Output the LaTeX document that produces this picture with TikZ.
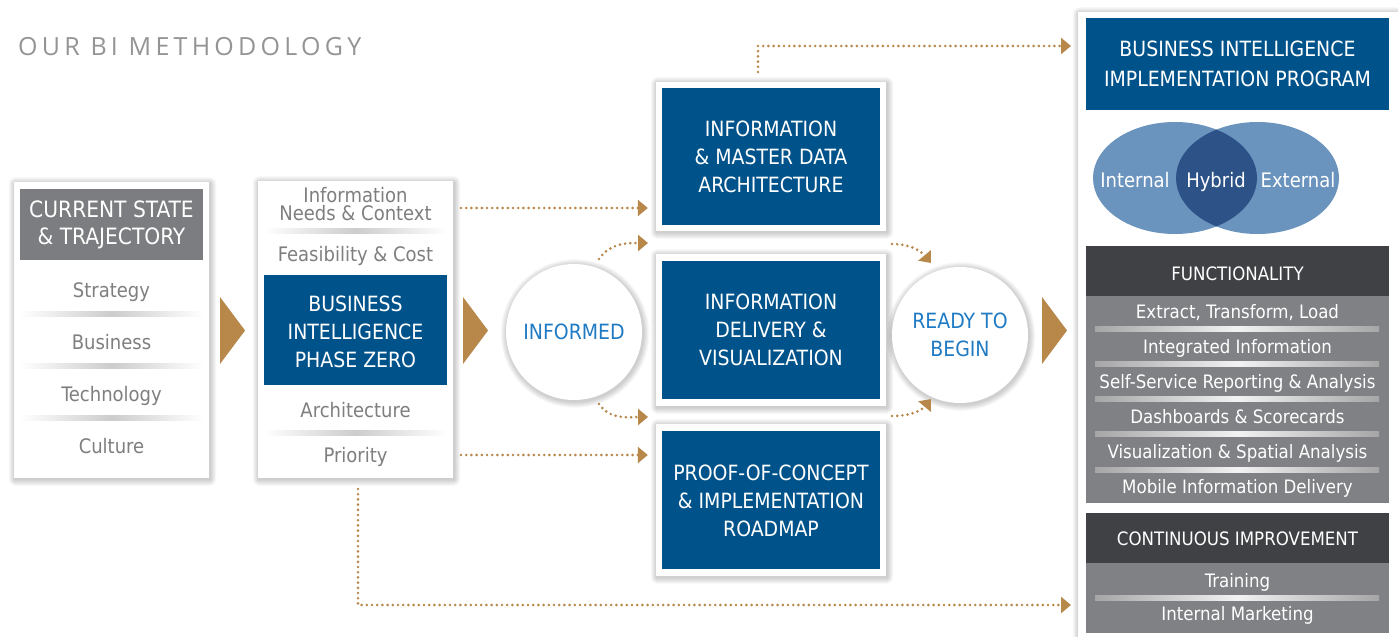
\documentclass[tikz,border=0pt]{standalone}
\usepackage{fontspec}
\setmainfont{DejaVu Sans Condensed}
\newfontfamily\titlefont[LetterSpace=17]{Open Sans}
\usetikzlibrary{arrows.meta}
\definecolor{biblue}{HTML}{00538A}
\definecolor{gold}{HTML}{B8874A}
\definecolor{txtgray}{HTML}{7F7F7F}
\definecolor{hdrgray}{HTML}{7C7D80}
\definecolor{darkhdr}{HTML}{404145}
\definecolor{bodygray}{HTML}{808184}
\definecolor{circblue}{HTML}{1F7BC4}
\definecolor{vennlight}{HTML}{6A93BD}
\definecolor{venndark}{HTML}{2C5287}
% soft shadow behind a rectangle given by its corners
\newcommand\softrect[4]{%
  \foreach \k in {1,...,7}{%
    \fill[black,opacity=0.028,rounded corners=\k pt]
      (#1-\k*0.9+1,#2-\k*0.9+1.5) rectangle (#3+\k*0.9+1,#4+\k*0.9+1.5);}}
\newcommand\softcirc[3]{%
  \foreach \k in {1,...,7}{%
    \fill[black,opacity=0.028] (#1+1,#2+1.5) circle [radius=#3+\k*0.9];}}
\begin{document}
\begin{tikzpicture}[x=1pt,y=-1pt,
  frame/.style={rectangle,fill=white,inner sep=0pt},
  bluebox/.style={rectangle,fill=biblue,inner sep=0pt,text=white,align=center},
  item/.style={text=txtgray,font=\fontsize{20}{19}\selectfont,anchor=base,inner sep=0pt,align=center},
  witem/.style={text=white,font=\fontsize{18.5}{19}\selectfont,anchor=base,inner sep=0pt},
  wtxt/.style={text=white,anchor=base,inner sep=0pt,align=center},
  bigtxt/.style={wtxt,anchor=center,font=\fontsize{21}{28}\selectfont},
  circ/.style={circle,fill=white,minimum size=136pt,inner sep=0pt,text=circblue,align=center,
    font=\fontsize{21}{28}\selectfont},
  gdot/.style={draw=gold,line width=2.9pt,dash pattern=on 0pt off 5.2pt,line cap=round,
    -{Triangle[length=10pt,width=16pt]}},
  goldtri/.style={fill=gold}
]
\useasboundingbox (0,0) rectangle (1398,637);
\fill[white] (0,0) rectangle (1398,637);

% title
\node[anchor=base west,inner sep=0pt,text=black!42,font=\titlefont\fontsize{25}{25}\selectfont] (title) at (18,55) {OUR BI METHODOLOGY};

% ---- panel 1
\softrect{14}{182}{209}{478}
\node[frame,minimum width=195pt,minimum height=296pt] (p1) at (111.5,330) {};
\node[rectangle,fill=hdrgray,minimum width=183pt,minimum height=71pt,inner sep=0pt] (p1h) at (111.5,224.5) {};
\node[wtxt,font=\fontsize{22.5}{27}\selectfont,anchor=center] (p1ht) at (111.5,225) {CURRENT STATE\\\& TRAJECTORY};
\foreach \yy in {314,366,418}
  \shade[left color=white,right color=white,middle color=black!20] (20,\yy-2.5) rectangle (203,\yy+2.5);
\node[item] (s1) at (111.5,297) {Strategy};
\node[item] (s2) at (111.5,349) {Business};
\node[item] (s3) at (111.5,401) {Technology};
\node[item] (s4) at (111.5,453) {Culture};

% ---- panel 2
\softrect{258}{181}{453}{478}
\node[frame,minimum width=195pt,minimum height=297pt] (p2) at (355.5,329.5) {};
\foreach \yy in {231,433}
  \shade[left color=white,right color=white,middle color=black!20] (264,\yy-2.5) rectangle (447,\yy+2.5);
\node[item] (q1) at (355.5,202) {Information};
\node[item] (q1b) at (355.5,220) {Needs \& Context};
\node[item] (q2) at (355.5,261) {Feasibility \& Cost};
\node[bluebox,minimum width=183pt,minimum height=110pt] (pz) at (355.5,330) {};
\node[bigtxt] (pzt) at (355.5,332) {BUSINESS\\INTELLIGENCE\\PHASE ZERO};
\node[item] (q3) at (355.5,417) {Architecture};
\node[item] (q4) at (355.5,462) {Priority};

% ---- gold arrows
\fill[goldtri] (220,297) -- (245,330.5) -- (220,364) -- cycle;
\fill[goldtri] (463,297) -- (488,330.5) -- (463,364) -- cycle;
\fill[goldtri] (1042,297) -- (1067,330.5) -- (1042,364) -- cycle;

% ---- informed circle
\softcirc{574}{332}{68}
\node[circ] (inf) at (574,332) {INFORMED};

% ---- three boxes
\softrect{656}{82}{886}{231}
\node[frame,minimum width=230pt,minimum height=149pt] (b1f) at (771,156.5) {};
\node[bluebox,minimum width=218pt,minimum height=137pt] (b1) at (771,156.5) {};
\node[bigtxt] (b1t) at (771,157) {INFORMATION\\\& MASTER DATA\\ARCHITECTURE};
\softrect{656}{254}{886}{406}
\node[frame,minimum width=230pt,minimum height=152pt] (b2f) at (771,330) {};
\node[bluebox,minimum width=218pt,minimum height=138pt] (b2) at (771,330) {};
\node[bigtxt] (b2t) at (771,330) {INFORMATION\\DELIVERY \&\\VISUALIZATION};
\softrect{656}{424}{886}{576}
\node[frame,minimum width=230pt,minimum height=152pt] (b3f) at (771,500) {};
\node[bluebox,minimum width=218pt,minimum height=138pt] (b3) at (771,500) {};
\node[bigtxt] (b3t) at (771,501) {PROOF-OF-CONCEPT\\\& IMPLEMENTATION\\ROADMAP};

% ---- ready circle
\softcirc{960}{335}{68}
\node[circ] (rdy) at (960,335) {READY TO\\BEGIN};

% ---- right panel
\softrect{1078}{12}{1398}{640}
\node[frame,minimum width=320pt,minimum height=628pt,anchor=north west] (rp) at (1078,12) {};
\node[bluebox,minimum width=303pt,minimum height=92pt,anchor=north west] (rph) at (1086,18) {};
\node[wtxt,font=\fontsize{21}{30}\selectfont,anchor=center] (rpht) at (1237.5,64) {BUSINESS INTELLIGENCE\\IMPLEMENTATION PROGRAM};
% venn
\fill[vennlight] (1175,178) ellipse [x radius=82pt,y radius=56pt];
\fill[vennlight] (1257.5,178) ellipse [x radius=81.5pt,y radius=56pt];
\begin{scope}
  \clip (1175,178) ellipse [x radius=82pt,y radius=56pt];
  \fill[venndark] (1257.5,178) ellipse [x radius=81.5pt,y radius=56pt];
\end{scope}
\node[witem,font=\fontsize{20}{19}\selectfont] (vi) at (1135,187) {Internal};
\node[witem,font=\fontsize{20}{19}\selectfont] (vh) at (1216,187) {Hybrid};
\node[witem,font=\fontsize{20}{19}\selectfont] (ve) at (1298,187) {External};
% functionality
\node[rectangle,fill=darkhdr,minimum width=303pt,minimum height=50pt,inner sep=0pt,anchor=north west] (fh) at (1086,246) {};
\node[witem,font=\fontsize{18.5}{19}\selectfont] (fht) at (1237.5,280) {FUNCTIONALITY};
\node[rectangle,fill=bodygray,minimum width=303pt,minimum height=207pt,inner sep=0pt,anchor=north west] (fb) at (1086,296) {};
\foreach \yy in {329,364,399,434,470}
  \shade[left color=black!35,right color=black!35,middle color=white!95!black] (1095,\yy-2.5) rectangle (1379,\yy+2.5);
\node[witem] (f1) at (1237.5,318) {Extract, Transform, Load};
\node[witem] (f2) at (1237.5,353) {Integrated Information};
\node[witem] (f3) at (1237.5,388) {Self-Service Reporting \& Analysis};
\node[witem] (f4) at (1237.5,423) {Dashboards \& Scorecards};
\node[witem] (f5) at (1237.5,458) {Visualization \& Spatial Analysis};
\node[witem] (f6) at (1237.5,493) {Mobile Information Delivery};
% continuous improvement
\node[rectangle,fill=darkhdr,minimum width=303pt,minimum height=50pt,inner sep=0pt,anchor=north west] (ch) at (1086,513) {};
\node[witem,font=\fontsize{18.5}{19}\selectfont] (cht) at (1237.5,545) {CONTINUOUS IMPROVEMENT};
\node[rectangle,fill=bodygray,minimum width=303pt,minimum height=70pt,inner sep=0pt,anchor=north west] (cb) at (1086,563) {};
\shade[left color=black!35,right color=black!35,middle color=white!95!black] (1095,595.5) rectangle (1379,600.5);
\node[witem] (c1) at (1237.5,587) {Training};
\node[witem] (c2) at (1237.5,620) {Internal Marketing};

% ---- connectors
\coordinate (a1s) at (461,208);
\coordinate (a4s) at (461,455);
\draw[gdot,shorten >=8pt] (a1s) -- (b1f.west |- a1s);
\draw[gdot,shorten >=8pt] (a4s) -- (b3f.west |- a4s);
\coordinate (i1) at (599,259);
\coordinate (i1e) at (648,243);
\coordinate (i2) at (599,404);
\coordinate (i2e) at (648,417);
\draw[gdot] (i1) to[out=55,in=180] (i1e);
\draw[gdot] (i2) to[out=-55,in=180] (i2e);
\coordinate (r1) at (892,244);
\coordinate (r1e) at (931,263);
\coordinate (r2) at (892,416);
\coordinate (r2e) at (931,399);
\draw[gdot] (r1) to[out=0,in=130] (r1e);
\draw[gdot] (r2) to[out=0,in=-130] (r2e);
\coordinate (t1) at (758,72);
\draw[gdot,shorten >=7pt] (t1) |- (rp.west |- 0,46);
\coordinate (u1) at (358,489);
\draw[gdot,shorten >=7pt] (u1) |- (rp.west |- 0,605);
\end{tikzpicture}
\end{document}
